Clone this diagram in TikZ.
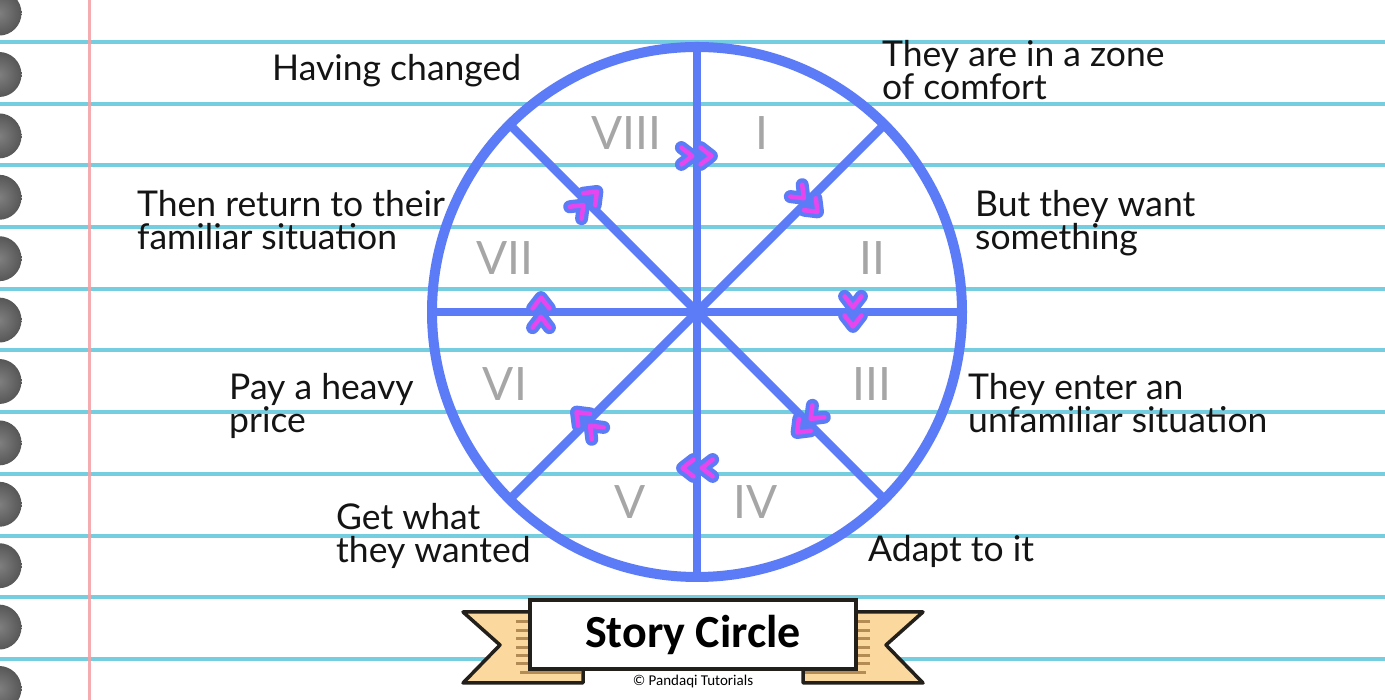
\documentclass[tikz,border=0pt]{standalone}
\usepackage{fontspec}
\setmainfont{Lato}
\newfontfamily\titlefont{Carlito}
\definecolor{ruleblue}{HTML}{74CEE0}
\definecolor{marginred}{HTML}{F4A3A8}
\definecolor{wheelblue}{HTML}{5C7CF7}
\definecolor{chevpink}{HTML}{E646EE}
\definecolor{numgray}{HTML}{A6A6A6}
\definecolor{tailtan}{HTML}{FAD89E}
\definecolor{tailline}{HTML}{B38B55}
\definecolor{inkdark}{HTML}{231F1B}

\begin{document}
\begin{tikzpicture}[x=1pt,y=1pt,
  phrase/.style={anchor=base west,align=left,inner sep=0pt,
    font=\fontsize{35.5}{33}\selectfont,text=black!92},
  numeral/.style={inner sep=0pt,font=\fontsize{46}{46}\selectfont,text=numgray},
  chevron/.style={line cap=round,line join=round}]
\useasboundingbox (0,0) rectangle (1385,700);
\fill[white] (0,0) rectangle (1385,700);
% ---- paper ----
\foreach \k in {0,...,10}{
  \draw[ruleblue,line width=4pt] (0,{658-61.7*\k}) -- (1385,{658-61.7*\k});}
\draw[marginred,line width=3pt,opacity=.9] (89,0) -- (89,700);
\foreach \k in {-1,...,10}{
  \shade[inner color=black!50,outer color=black!66] (-1,{625.5-61.4*\k}) circle (22.5);}
% ---- wheel ----
\begin{scope}[shift={(697,388)}]
\def\R{265}
\coordinate (hub) at (0,0);
\foreach \a in {0,45,...,315}{
  \coordinate (rim\a) at (\a:\R);
  \draw[wheelblue,line width=8.5pt] (hub) -- (rim\a);}
\draw[wheelblue,line width=10pt] (hub) circle (\R);
\foreach \a in {0,45,...,315}{
  \begin{scope}[shift={(\a:156)},rotate=\a-90,scale=1.2]
  \draw[chevron,wheelblue,line width=13pt] (-13,7) -- (-4,0) -- (-13,-7) (3,7) -- (12,0) -- (3,-7);
  \draw[chevron,chevpink,line width=4.5pt] (-13,7) -- (-4,0) -- (-13,-7) (3,7) -- (12,0) -- (3,-7);
  \end{scope}}
\end{scope}
% ---- numerals ----
\foreach \n/\x/\y/\t in {1/762/567/I,2/872/442/II,3/872/316/III,4/756/198/IV,
                          5/630/198/V,6/505/316/VI,7/505/442/VII,8/626/567/VIII}{
  \node[numeral] (num\n) at (\x,\y) {\t};}
% ---- phrases (base = last line) ----
\node[phrase] (p1) at (882,600) {They are in a zone\\of comfort};
\node[phrase] (p2) at (975,450) {But they want\\something};
\node[phrase] (p3) at (968,267) {They enter an\\unfamiliar situation};
\node[phrase] (p4) at (868,138) {Adapt to it};
\node[phrase] (p5) at (336,137) {Get what\\they wanted};
\node[phrase] (p6) at (229,267) {Pay a heavy\\price};
\node[phrase] (p7) at (137,450) {Then return to their\\familiar situation};
\node[phrase] (p8) at (272,619) {Having changed};
% ---- banner ----
\foreach \s in {1,-1}{
  \begin{scope}[shift={(693,0)},xscale=\s]
  \filldraw[tailtan,draw=inkdark,line width=3.5pt,line join=round]
    (-230,88) -- (-193,55) -- (-230,17) -- (-110,17) -- (-110,88) -- cycle;
  \foreach \y in {78,69,61,52,44,36}{
    \draw[tailline,line width=3pt] (-177,\y) -- (-150,\y);}
  \draw[tailline,line width=3pt] (-173,27) -- (-112,27);
  \end{scope}}
\node[draw=inkdark,fill=white,line width=4pt,minimum width=326,minimum height=69,
  inner sep=0pt,font=\titlefont\bfseries\fontsize{46}{46}\selectfont] (title) at (693,65.5) {Story Circle};
\node[inner sep=0pt,font=\titlefont\fontsize{15}{15}\selectfont] (credit) at (693,18) {© Pandaqi Tutorials};
\end{tikzpicture}
\end{document}
